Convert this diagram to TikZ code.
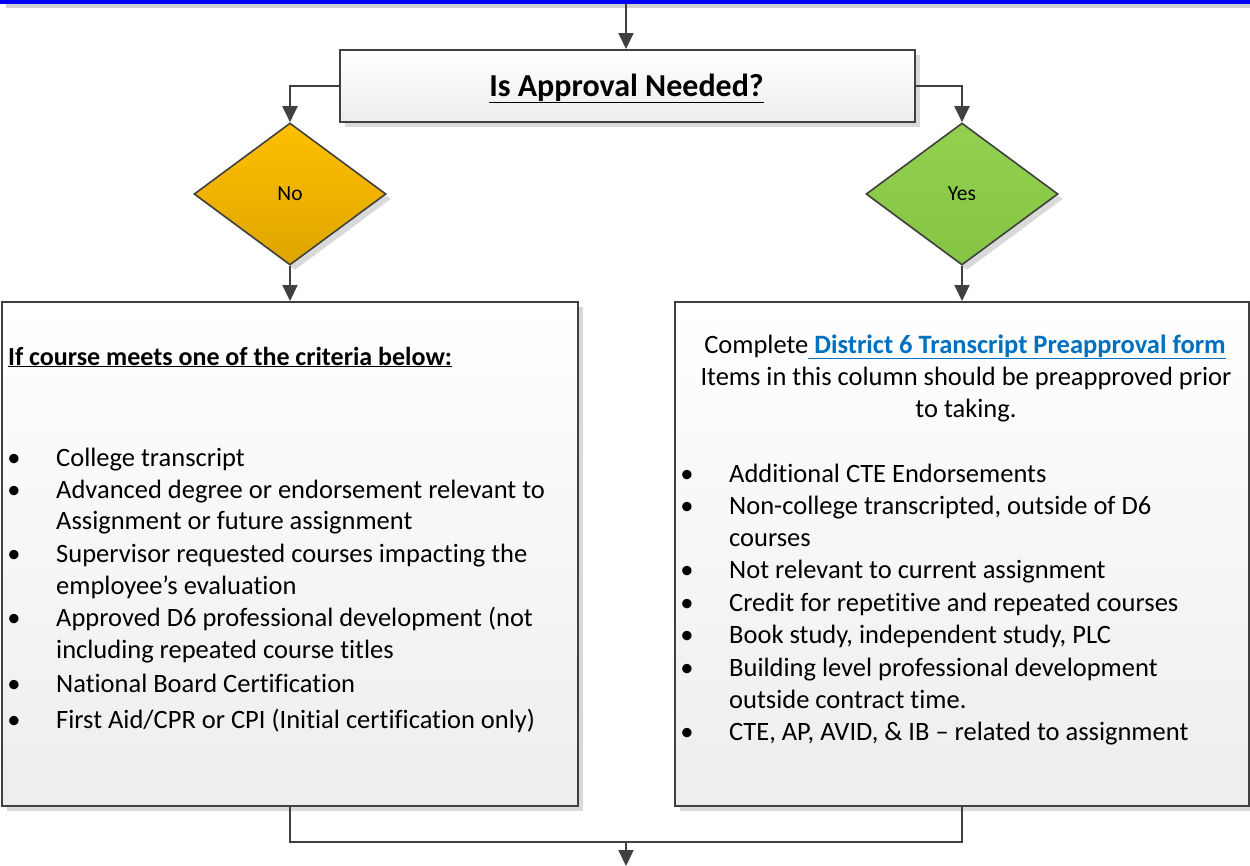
\documentclass[tikz,border=0pt]{standalone}
\usepackage{fontspec}
\setmainfont{Carlito}[Ligatures=NoCommon]
\usetikzlibrary{shapes.geometric,arrows.meta,shadows}
\definecolor{linegray}{HTML}{404040}
\definecolor{noTop}{HTML}{FFC000}
\definecolor{noBot}{HTML}{DEA500}
\definecolor{yesTop}{HTML}{92D050}
\definecolor{yesBot}{HTML}{86C443}
\definecolor{linkblue}{HTML}{0070C0}
\definecolor{topblue}{HTML}{0000F0}
\tikzset{
  conn/.style={draw=linegray, line width=2pt},
  arr/.style={conn, -{Triangle[width=15pt,length=16pt]}},
  shad/.style={drop shadow={shadow xshift=5pt, shadow yshift=-5pt, fill=black, opacity=.15}},
  boxstyle/.style={draw=linegray, line width=2pt, top color=white, bottom color=black!7, shad, inner sep=0pt},
  decision/.style={diamond, draw=linegray, line width=1.6pt, inner sep=0pt, font=\fontsize{21.5}{25}\selectfont, shad},
  bodytext/.style={inner sep=0pt, font=\fontsize{26.5}{31}\selectfont},
}
\begin{document}
\begin{tikzpicture}[x=1pt,y=-1pt]
\useasboundingbox (0,0) rectangle (1250,865);
% top (cropped) box edge
\fill[black!18] (6,3) rectangle (1250,8);
\fill[topblue] (0,0) rectangle (1250,3.5);
\coordinate (topin) at (626,3.5);
% question box
\node[boxstyle, minimum width=575pt, minimum height=72pt] (q) at (627.5,86) {};
\node[inner sep=0pt, anchor=base, font=\fontsize{32}{38}\selectfont\bfseries] (qt) at (626.5,96) {\underline{Is Approval Needed?}};
% decisions
\node[decision, top color=noTop, bottom color=noBot, minimum width=192pt, minimum height=142pt] (no) at (290,194) {No};
\node[decision, top color=yesTop, bottom color=yesBot, minimum width=192pt, minimum height=142pt] (yes) at (962,194) {Yes};
% content boxes
\node[boxstyle, minimum width=576pt, minimum height=504pt] (left) at (290,554) {};
\node[boxstyle, minimum width=574pt, minimum height=504pt] (right) at (962,554) {};
% connectors
\draw[arr] (topin) -- (topin |- q.north);
\draw[arr] (q.west) -| (no.north);
\draw[arr] (q.east) -| (yes.north);
\draw[arr] (no.south) -- (left.north);
\draw[arr] (yes.south) -- (right.north);
\coordinate (join) at (626,842);
\coordinate (out) at (626,866);
\draw[conn] (left.south) |- (join) -| (right.south);
\draw[arr] (join) -- (out);
% left box text
\node[inner sep=0pt, anchor=base west, font=\fontsize{26}{31}\selectfont\bfseries] (lh) at (8,365) {\underline{If course meets one of the criteria below:}};
\foreach \y/\b/\t [count=\i] in {
  466/1/{College transcript},
  498/1/{Advanced degree or endorsement relevant to},
  529/0/{Assignment or future assignment},
  562/1/{Supervisor requested courses impacting the},
  594/0/{employee’s evaluation},
  626/1/{Approved D6 professional development (not},
  658/0/{including repeated course titles},
  692/1/{National Board Certification},
  728/1/{First Aid/CPR or CPI (Initial certification only)}}{
  \node[bodytext, anchor=base west] (lt\i) at (56,\y) {\t};
  \ifnum\b=1 \node[bodytext, anchor=base] (lb\i) at (14,\y) {•};\fi
}
% right box text
\node[bodytext, anchor=base] (rh1) at (965,353) {Complete\textcolor{linkblue}{\underline{\textbf{ District 6 Transcript Preapproval form}}}};
\node[bodytext, anchor=base] (rh2) at (966,385) {Items in this column should be preapproved prior};
\node[bodytext, anchor=base] (rh3) at (966,417) {to taking.};
\foreach \y/\b/\t [count=\i] in {
  482/1/{Additional CTE Endorsements},
  514/1/{Non-college transcripted, outside of D6},
  546/0/{courses},
  578/1/{Not relevant to current assignment},
  611/1/{Credit for repetitive and repeated courses},
  643/1/{Book study, independent study, PLC},
  676/1/{Building level professional development},
  708/0/{outside contract time.},
  740/1/{CTE, AP, AVID, \& IB – related to assignment}}{
  \node[bodytext, anchor=base west] (rt\i) at (729,\y) {\t};
  \ifnum\b=1 \node[bodytext, anchor=base] (rb\i) at (687,\y) {•};\fi
}
\end{tikzpicture}
\end{document}
